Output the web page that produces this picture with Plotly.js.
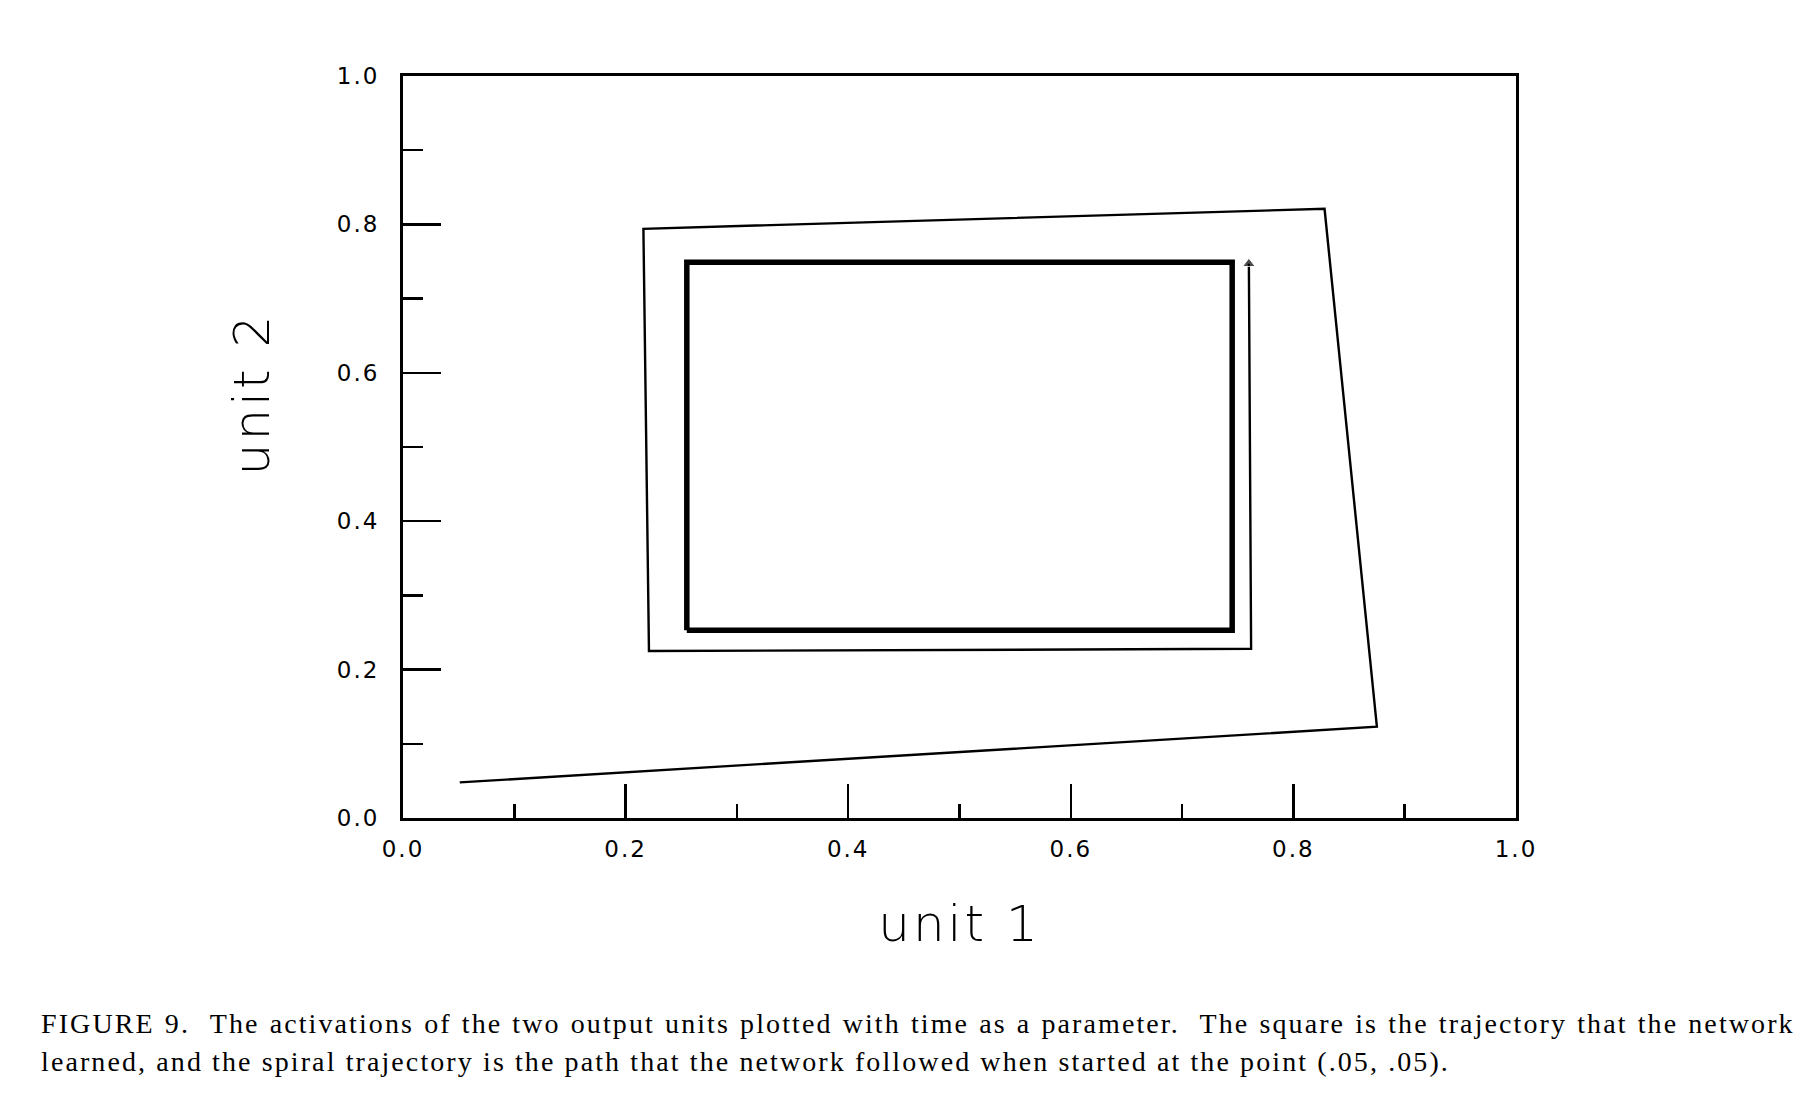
<!DOCTYPE html>
<html>
<head>
<meta charset="utf-8">
<script src="https://cdn.plot.ly/plotly-3.0.1.min.js"></script>
<style>
  html, body { margin: 0; padding: 0; background: #fff; }
  #chart { width: 1814px; height: 1120px; }
  .xtick text, .ytick text { letter-spacing: 2px; }
  .annotation[data-index="1"] text { letter-spacing: 2.1px; word-spacing: 1px; }
  .annotation[data-index="2"] text { letter-spacing: 2.1px; }
  .annotation[data-index="0"] text, .xtitle { letter-spacing: 3px; }
</style>
</head>
<body>
<div id="chart"></div>
<script>
// Learned trajectory (the "square")
const squareX = [0.255, 0.745, 0.745, 0.255, 0.255];
const squareY = [0.253, 0.253, 0.749, 0.749, 0.253];

// Spiral trajectory started at (.05, .05)
const spiralX = [0.051, 0.875, 0.828, 0.216, 0.221, 0.762, 0.760];
const spiralY = [0.048, 0.123, 0.821, 0.794, 0.225, 0.228, 0.747];

const xTitle = "unit 1";
const yTitle = "unit 2";
const captionLine1 = "FIGURE 9.  The activations of the two output units plotted with time as a parameter.  The square is the trajectory that the network";
const captionLine2 = "learned, and the spiral trajectory is the path that the network followed when started at the point (.05, .05).";

const tickVals = [0.0, 0.2, 0.4, 0.6, 0.8, 1.0];
const tickText = ["0.0", "0.2", "0.4", "0.6", "0.8", "1.0"];
const minorTickVals = [0.1, 0.3, 0.5, 0.7, 0.9];

const last = spiralX.length - 1;
const markerSizes = spiralX.map((v, i) => (i === last ? 11 : 0));

const traces = [
  {
    x: squareX, y: squareY, type: "scatter", mode: "lines",
    line: { color: "#000", width: 5.5 }, hoverinfo: "skip", showlegend: false
  },
  {
    x: spiralX, y: spiralY, type: "scatter", mode: "lines+markers",
    line: { color: "#000", width: 2.4 },
    marker: { symbol: "triangle-up", size: markerSizes, color: "#000" },
    hoverinfo: "skip", showlegend: false
  }
];

const tickFont = { family: "DejaVu Sans", size: 23, color: "#000" };
const titleFont = { family: "DejaVu Sans", size: 50, color: "#000", weight: 200 };
const captionFont = { family: "Liberation Serif", size: 28, color: "#000" };

const layout = {
  width: 1814, height: 1120,
  paper_bgcolor: "#fff", plot_bgcolor: "#fff",
  margin: { l: 403, r: 298, t: 76, b: 302 },
  showlegend: false,
  xaxis: {
    range: [0, 1], tickvals: tickVals, ticktext: tickText,
    ticks: "inside", ticklen: 34, tickwidth: 2.5, tickcolor: "#000",
    minor: { tickvals: minorTickVals, ticks: "inside", ticklen: 14, tickwidth: 2.5, tickcolor: "#000", showgrid: false },
    showgrid: false, zeroline: false,
    showline: true, linecolor: "#000", linewidth: 3, mirror: true,
    tickfont: tickFont, ticklabelstandoff: 8,
    title: { text: xTitle, font: titleFont, standoff: 46 }
  },
  yaxis: {
    range: [0, 1], tickvals: tickVals, ticktext: tickText,
    ticks: "inside", ticklen: 38, tickwidth: 2.5, tickcolor: "#000",
    minor: { tickvals: minorTickVals, ticks: "inside", ticklen: 20, tickwidth: 2.5, tickcolor: "#000", showgrid: false },
    showgrid: false, zeroline: false,
    showline: true, linecolor: "#000", linewidth: 3, mirror: true,
    tickfont: tickFont, ticklabelstandoff: 16
  },
  annotations: [
    {
      text: yTitle, xref: "paper", yref: "paper",
      x: -0.136, y: 0.572, xanchor: "center", yanchor: "middle",
      textangle: -90, showarrow: false,
      font: titleFont
    },
    {
      text: captionLine1, xref: "paper", yref: "paper",
      x: -0.327, y: -0.2765, xanchor: "left", yanchor: "middle", align: "left",
      showarrow: false,
      font: captionFont
    },
    {
      text: captionLine2, xref: "paper", yref: "paper",
      x: -0.327, y: -0.3275, xanchor: "left", yanchor: "middle", align: "left",
      showarrow: false,
      font: captionFont
    }
  ]
};

Plotly.newPlot("chart", traces, layout, { staticPlot: true, displayModeBar: false });
</script>
</body>
</html>
